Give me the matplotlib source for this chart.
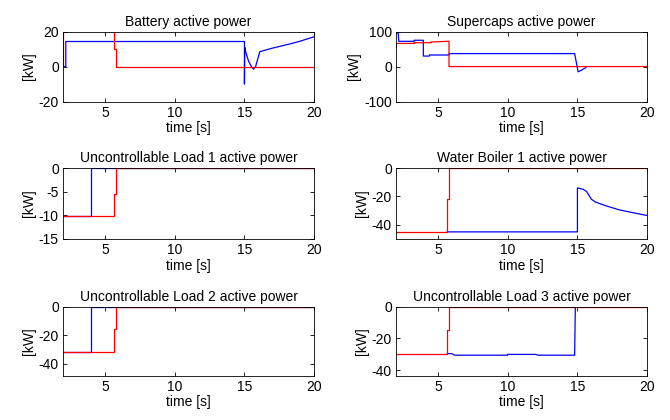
import matplotlib
matplotlib.use("Agg")
import matplotlib.pyplot as plt

plt.rcParams["font.family"] = ["Liberation Sans", "DejaVu Sans"]
plt.rcParams["axes.unicode_minus"] = False

# Battery
bat_red_t = [2.0, 2.03, 2.03, 5.69, 5.69, 5.78, 5.78, 20.0]
bat_red_p = [0, 0, 30, 30, 10, 10, 0, 0]
bat_blue_t = [2.1, 2.2, 2.2, 15.0, 15.0, 15.02, 15.1, 15.3, 15.5, 15.65, 15.8, 16.1, 17.0, 18.3, 19.0, 20.0]
bat_blue_p = [0, 0, 14.3, 14.3, -10, 11, 8, 3, 0, -1.5, 0, 8.5, 10.5, 13, 14.5, 17]

# Supercaps
sc_red_t = [2.0, 2.03, 2.03, 3.3, 3.3, 4.5, 4.5, 5.7, 5.8, 5.8, 20.0]
sc_red_p = [55, 55, 66, 66, 68, 68, 70, 72, 72, 0, 0]
sc_blue_t = [2.05, 2.1, 2.15, 2.2, 3.3, 3.3, 3.96, 3.96, 4.4, 4.4, 5.8, 5.8, 14.8, 15.05, 15.3, 15.6]
sc_blue_p = [95, 100, 100, 72, 72, 75, 75, 30, 30, 33, 33, 37, 37, -15, -10, -3]

# Uncontrollable Load 1
ul1_red_t = [2.0, 5.69, 5.69, 5.78, 5.78, 20.0]
ul1_red_p = [-10.2, -10.2, -5.5, -5.5, 0, 0]
ul1_blue_t = [2.0, 4.0, 4.0, 20.0]
ul1_blue_p = [-10.2, -10.2, 0, 0]

# Water Boiler 1
wb_red_t = [2.0, 5.67, 5.67, 5.77, 5.77, 20.0]
wb_red_p = [-45, -45, -22, -22, 0, 0]
wb_blue_t = [5.67, 15.0, 15.0, 15.4, 15.65, 16.0, 16.3, 17.0, 18.0, 19.0, 20.0]
wb_blue_p = [-45, -45, -14, -15, -16.5, -22, -24, -26.5, -29.5, -31.5, -33.5]

# Uncontrollable Load 2
ul2_red_t = [2.0, 5.69, 5.69, 5.78, 5.78, 20.0]
ul2_red_p = [-32, -32, -16, -16, 0, 0]
ul2_blue_t = [2.0, 4.0, 4.0, 20.0]
ul2_blue_p = [-32, -32, 0, 0]

# Uncontrollable Load 3
ul3_red_t = [2.0, 5.69, 5.69, 5.78, 5.78, 20.0]
ul3_red_p = [-29.5, -29.5, -15, -15, 0, 0]
ul3_blue_t = [5.69, 6.0, 6.2, 10.0, 10.0, 12.0, 12.2, 14.8, 14.85, 20.0]
ul3_blue_p = [-29.5, -29.5, -30.5, -30.5, -30, -30, -30.5, -30.5, 0, 0]

panels = [
    ("Battery active power", (bat_blue_t, bat_blue_p), (bat_red_t, bat_red_p), (-20, 20), [-20, 0, 20]),
    ("Supercaps active power", (sc_blue_t, sc_blue_p), (sc_red_t, sc_red_p), (-100, 100), [-100, 0, 100]),
    ("Uncontrollable Load 1 active power", (ul1_blue_t, ul1_blue_p), (ul1_red_t, ul1_red_p), (-15, 0), [-15, -10, -5, 0]),
    ("Water Boiler 1 active power", (wb_blue_t, wb_blue_p), (wb_red_t, wb_red_p), (-50, 0), [-40, -20, 0]),
    ("Uncontrollable Load 2 active power", (ul2_blue_t, ul2_blue_p), (ul2_red_t, ul2_red_p), (-48.5, 0), [-40, -20, 0]),
    ("Uncontrollable Load 3 active power", (ul3_blue_t, ul3_blue_p), (ul3_red_t, ul3_red_p), (-43.5, 0), [-40, -20, 0]),
]

lefts = [0.094, 0.591]
bottoms = [0.758, 0.431, 0.105]
heights = [0.167, 0.169, 0.165]
width = 0.375

fig = plt.figure(figsize=(6.7, 4.2), dpi=100)
for i, (title, blue, red, ylim, yticks) in enumerate(panels):
    r, c = divmod(i, 2)
    ax = fig.add_axes([lefts[c], bottoms[r], width, heights[r]])
    ax.plot(blue[0], blue[1], color="#0000ff", lw=0.9)
    ax.plot(red[0], red[1], color="#ff0000", lw=0.9)
    ax.set_xlim(2, 20)
    ax.set_ylim(*ylim)
    ax.set_xticks([5, 10, 15, 20])
    ax.set_yticks(yticks)
    ax.tick_params(direction="in", top=True, right=True, length=3, width=0.6, labelsize=10, pad=3)
    for s in ax.spines.values():
        s.set_linewidth(0.6)
    ax.set_title(title, fontsize=10, pad=4)
    ax.set_xlabel("time [s]", fontsize=10, labelpad=1)
    ax.set_ylabel("[kW]", fontsize=10, labelpad=2)

fig.savefig("out.png", dpi=100)
